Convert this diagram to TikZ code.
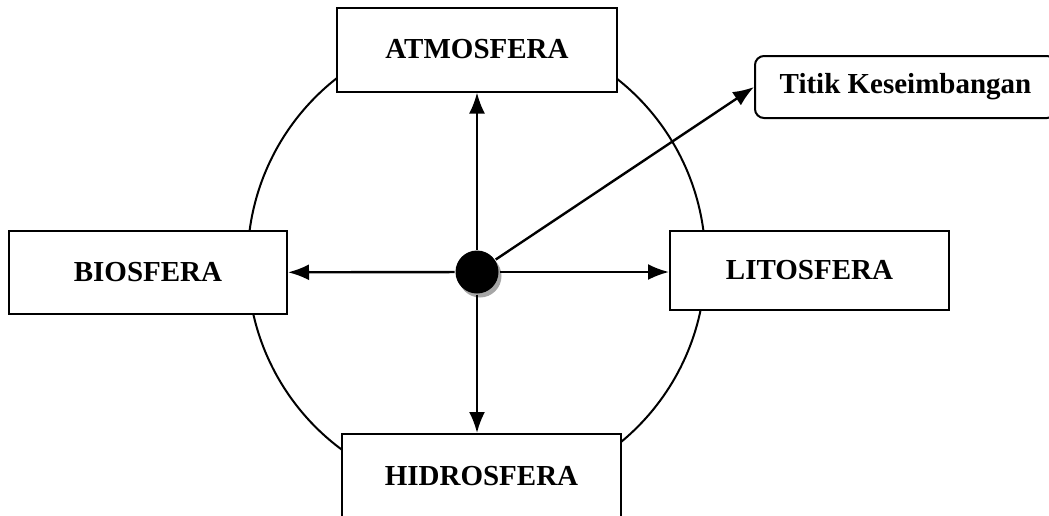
\documentclass[tikz,border=0pt]{standalone}
\usepackage{fontspec}
\setmainfont{Liberation Serif}
\usetikzlibrary{arrows.meta,shadows}
\begin{document}
\begin{tikzpicture}[x=1pt,y=-1pt,line width=2pt,
  sfera/.style={draw,fill=white,minimum width=280pt,minimum height=84pt,inner sep=0pt,
    font=\fontsize{29}{34}\selectfont\bfseries},
  arr/.style={line width=2.4pt,-{Latex[length=21pt,width=16pt]}}]
\useasboundingbox (0,0) rectangle (1049,515);
\draw (476.5,262) ellipse (229 and 232);
\node[sfera] (atm) at (477,49.5) {ATMOSFERA};
\node[sfera,minimum width=278pt,minimum height=83pt] (bio) at (148,272.5) {BIOSFERA};
\node[sfera,minimum width=279pt,minimum height=79pt] (lito) at (809.5,270.5) {LITOSFERA};
\node[sfera,minimum width=279pt,minimum height=85pt] (hid) at (481.5,476.5) {HIDROSFERA};
\node[sfera,rounded corners=9pt,minimum width=301pt,minimum height=62pt] (titik) at (905.5,87) {Titik Keseimbangan};
\node[circle,fill=black,minimum size=43pt,inner sep=0pt,
  drop shadow={shadow xshift=3pt,shadow yshift=-4pt,fill=black!35,opacity=1}] (dot) at (477,272) {};
\draw[arr] (dot) -- (atm);
\draw[arr] (dot) -- (dot |- hid.north);
\draw[arr] (dot) -- (bio);
\draw[arr] (dot) -- (dot -| lito.west);
\draw[arr] (dot) -- (titik.west);
\end{tikzpicture}
\end{document}
